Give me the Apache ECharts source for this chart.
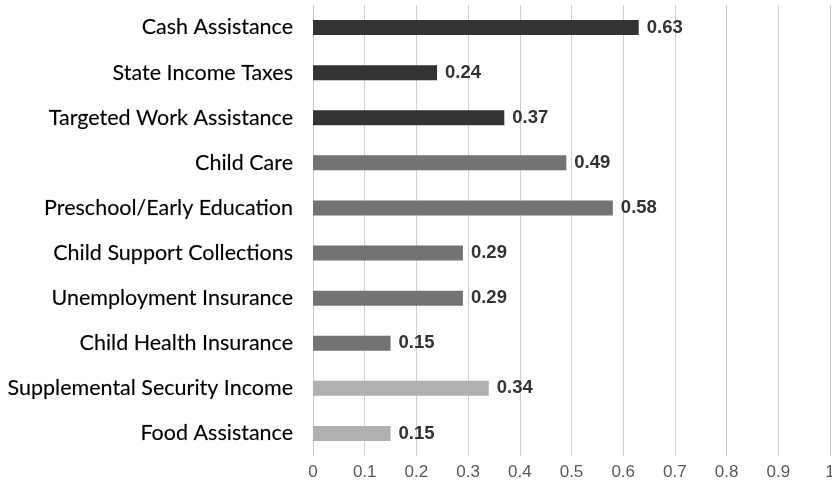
<!DOCTYPE html>
<html>
<head>
<meta charset="utf-8">
<script src="https://cdn.jsdelivr.net/npm/echarts@6/dist/echarts.min.js"></script>
<style>
  html, body { margin: 0; padding: 0; background: #ffffff; }
  #chart { width: 832px; height: 490px; }
</style>
</head>
<body>
<div id="chart"></div>
<script>
// Programs, listed top to bottom
const categories = [
  'Cash Assistance',
  'State Income Taxes',
  'Targeted Work Assistance',
  'Child Care',
  'Preschool/Early Education',
  'Child Support Collections',
  'Unemployment Insurance',
  'Child Health Insurance',
  'Supplemental Security Income',
  'Food Assistance'
];
const values = [0.63, 0.24, 0.37, 0.49, 0.58, 0.29, 0.29, 0.15, 0.34, 0.15];
// Shade group for each program: 0 = dark, 1 = medium, 2 = light
const groups = [0, 0, 0, 1, 1, 1, 1, 1, 2, 2];
const tickLabels = ['0', '0.1', '0.2', '0.3', '0.4', '0.5', '0.6', '0.7', '0.8', '0.9', '1'];

const shades = ['#333333', '#737373', '#b0b0b0'];

const chart = echarts.init(document.getElementById('chart'), null, { renderer: 'canvas' });

chart.setOption({
  animation: false,
  grid: {
    left: 313, right: 2, top: 5, bottom: 34,
    containLabel: false,
    outerBoundsMode: 'none'
  },
  xAxis: {
    type: 'value',
    min: 0,
    max: 1,
    interval: 0.1,
    axisLine: { show: false },
    axisTick: { show: false },
    splitLine: { show: true, lineStyle: { color: '#cfcfcf', width: 1 } },
    axisLabel: {
      color: '#595959',
      fontFamily: 'Liberation Sans, Arial, sans-serif',
      fontSize: 17,
      margin: 8,
      hideOverlap: false,
      formatter: function (v) { return tickLabels[Math.round(v * 10)]; }
    }
  },
  yAxis: {
    type: 'category',
    inverse: true,
    data: categories,
    axisLine: { show: false },
    axisTick: { show: false },
    splitLine: { show: false },
    axisLabel: {
      color: '#000000',
      fontFamily: 'Lato, sans-serif',
      fontSize: 21.5,
      margin: 20,
      textBorderColor: 'rgba(0,0,0,0.35)',
      textBorderWidth: 0.4
    }
  },
  series: [{
    type: 'bar',
    barWidth: 15,
    data: values.map(function (v, i) {
      return { value: v, itemStyle: { color: shades[groups[i]] } };
    }),
    label: {
      show: true,
      position: 'right',
      distance: 8,
      color: '#333333',
      fontFamily: 'Liberation Sans, Arial, sans-serif',
      fontWeight: 'bold',
      fontSize: 18.5,
      formatter: function (p) { return p.value.toFixed(2); }
    }
  }]
});
</script>
</body>
</html>
